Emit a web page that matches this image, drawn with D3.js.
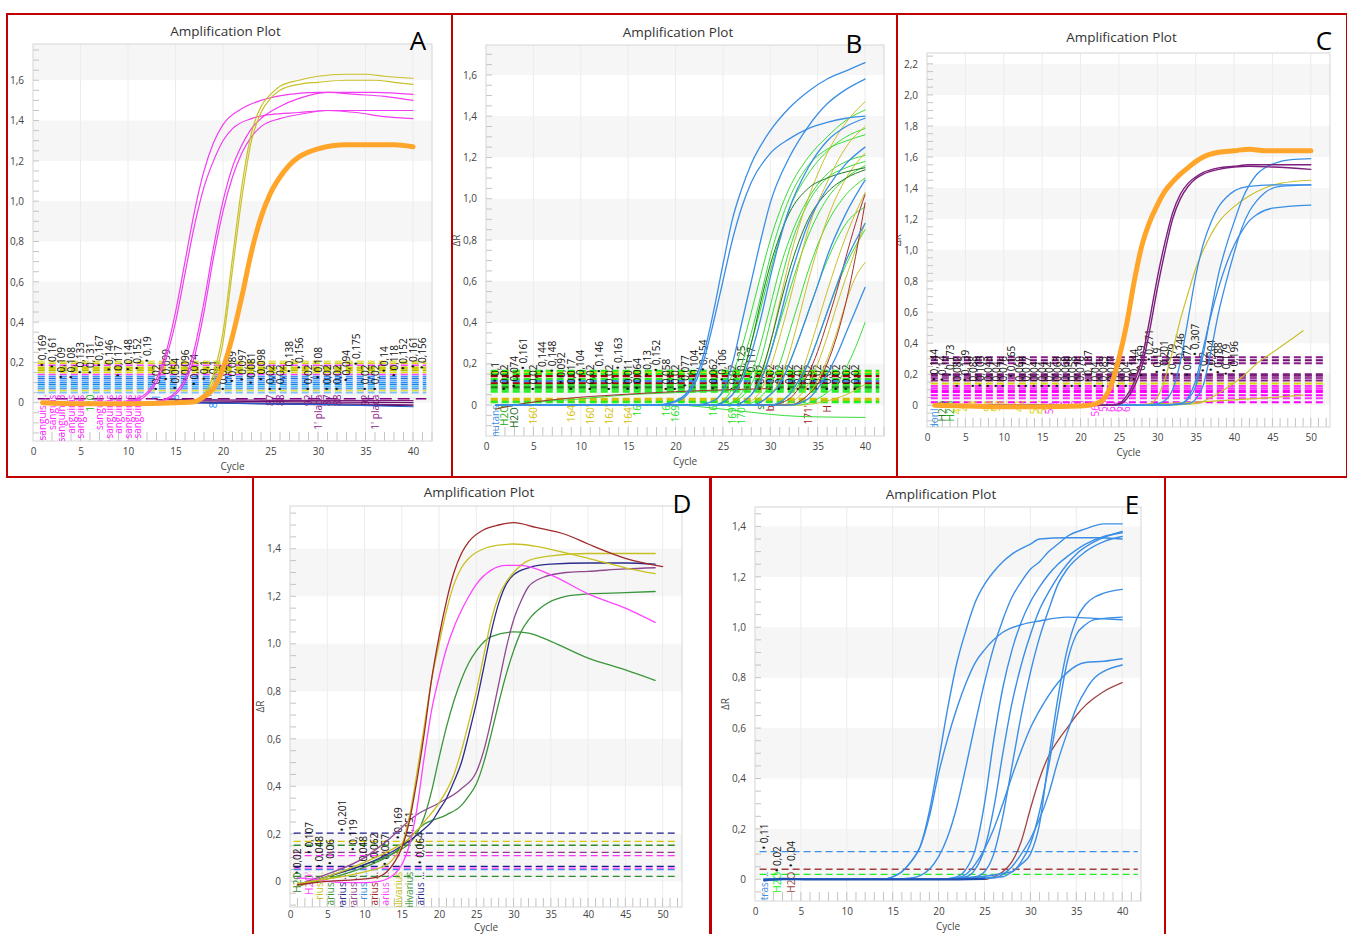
<!DOCTYPE html>
<html>
<head>
<meta charset="utf-8">
<script src="https://cdn.jsdelivr.net/npm/d3@7"></script>
<style>
  body { margin: 0; background: #fff; }
  svg text { font-family: "Open Sans", "Noto Sans", sans-serif; }
</style>
</head>
<body>
<script>
// ---------- panel A (cycle, deltaR) ----------
var aOrange = [[1,0],[5,-0.005],[10,-0.005],[15,0],[17,0.005],[18,0.03],[19,0.07],[20,0.17],[21,0.33],[22,0.53],[23,0.75],[24,0.92],[25,1.04],[26,1.12],[27,1.18],[28,1.22],[30,1.26],[33,1.28],[36,1.28],[38,1.28],[40,1.27]];
var aMag1 = [[1,0],[9,0],[11,0.02],[12,0.05],[13,0.12],[14,0.25],[15,0.45],[16,0.7],[17,0.95],[18,1.15],[19,1.29],[20,1.38],[22,1.46],[24,1.5],[27,1.53],[30,1.54],[33,1.54],[36,1.54],[40,1.53]];
var aMag2 = [[1,0],[9,0],[11,0.01],[12,0.04],[13,0.1],[14,0.22],[15,0.4],[16,0.64],[17,0.88],[18,1.07],[19,1.2],[20,1.3],[21,1.36],[23,1.41],[25,1.43],[28,1.44],[31,1.45],[34,1.44],[37,1.42],[40,1.41]];
var aMag3 = [[1,0],[12,0],[14,0.02],[15,0.05],[16,0.12],[17,0.27],[18,0.5],[19,0.77],[20,1],[21,1.17],[22,1.28],[23,1.36],[24,1.41],[26,1.47],[28,1.51],[31,1.54],[34,1.53],[37,1.52],[40,1.5]];
var aMag4 = [[1,0],[12,0],[14,0.015],[15,0.04],[16,0.1],[17,0.23],[18,0.45],[19,0.72],[20,0.95],[21,1.12],[22,1.24],[23,1.32],[24,1.37],[26,1.41],[28,1.43],[31,1.45],[34,1.45],[37,1.45],[40,1.45]];
var aOl1 = [[1,0],[15,0],[17,0.01],[18,0.04],[19,0.14],[20,0.35],[21,0.72],[22,1.08],[23,1.34],[24,1.47],[25,1.53],[26,1.57],[28,1.6],[30,1.62],[33,1.63],[35,1.63],[37,1.62],[40,1.61]];
var aOl2 = [[1,0],[15,0],[17,0.005],[18,0.03],[19,0.11],[20,0.3],[21,0.66],[22,1.02],[23,1.3],[24,1.44],[25,1.51],[26,1.55],[28,1.58],[30,1.59],[33,1.6],[36,1.6],[38,1.59],[40,1.58]];
var aBase1 = [[13,0.005],[20,0],[30,-0.005],[40,-0.01]];
var aBase2 = [[15,0.01],[25,0.005],[40,0]];
var aBase3 = [[17,0],[30,-0.01],[40,-0.015]];
var aBase4 = [[15,0],[30,-0.008],[40,-0.02]];
var aBase5 = [[13,0.015],[25,0.012],[40,0.01]];
var aThrVals = [0.205,0.196,0.186,0.176,0.168,0.16,0.15,0.14,0.13,0.12,0.11,0.1,0.09,0.08,0.07,0.06,0.05];
var aThrCols = ["#e0e060","#d4d400","#ff40ff","#c8c800","#d0d000","#b8b800","#e0e000","#ff40ff","#3399ff","#1f6fe0","#66aaff","#1e90ff","#2080e0","#40c0ff","#5599ee","#e0e040","#7fbfff"];
var aValLabels = [[1,"0,169"],[2,"0,161"],[3,"0,109"],[4,"0,108"],[5,"0,133"],[6,"0,131"],[7,"0,167"],[8,"0,146"],[9,"0,117"],[10,"0,148"],[11,"0,152"],[12,"0,19"],[13,"0,02"],[14,"0,099"],[15,"0,054"],[16,"0,096"],[17,"0,074"],[18,"0,1"],[19,"0,1"],[20,"0,02"],[21,"0,089"],[22,"0,097"],[23,"0,081"],[24,"0,098"],[25,"0,02"],[26,"0,02"],[27,"0,138"],[28,"0,156"],[29,"0,02"],[30,"0,108"],[31,"0,02"],[32,"0,02"],[33,"0,094"],[34,"0,175"],[35,"0,02"],[36,"0,02"],[37,"0,14"],[38,"0,118"],[39,"0,152"],[40,"0,161"],[41,"0,156"]];
var aSamples = [[1,"sanguis ...","#ff22ff"],[2,"sanguis","#ff22ff"],[3,"sanguini 3","#ff22ff"],[4,"anguinis","#ff22ff"],[5,"sanguinis","#ff22ff"],[6,"120","#22aa22"],[7,"sanguis","#ff22ff"],[8,"sanguinis","#ff22ff"],[9,"anguinis","#ff22ff"],[10,"sanguinis","#ff22ff"],[11,"sanguinis","#ff22ff"],[13,"81","#1e90ff"],[15,"8","#1e90ff"],[19,"81'","#1e90ff"],[25,"87","#8b1a8b"],[26,"88","#8b1a8b"],[29,"92","#8b1a8b"],[30,"1' placa","#8b1a8b"],[31,"87","#8b1a8b"],[32,"88","#8b1a8b"],[35,"92","#8b1a8b"],[36,"1' placa","#8b1a8b"]];

// ---------- panel B ----------
var bB1 = [[1,0],[18,0],[20,0.02],[21,0.05],[22,0.12],[23,0.25],[24,0.45],[25,0.68],[26,0.9],[27,1.05],[28,1.17],[30,1.33],[32,1.44],[34,1.52],[36,1.58],[38,1.62],[40,1.66]];
var bB2 = [[1,0],[18,0],[20,0.015],[21,0.04],[22,0.1],[23,0.22],[24,0.4],[25,0.6],[26,0.8],[27,0.96],[28,1.08],[30,1.22],[32,1.29],[34,1.34],[36,1.37],[38,1.39],[40,1.4]];
var bB3 = [[1,0],[22,0],[24,0.02],[25,0.07],[26,0.2],[27,0.4],[28,0.6],[29,0.8],[30,0.98],[32,1.2],[34,1.35],[36,1.46],[38,1.53],[40,1.58]];
var bB4 = [[1,0],[24,0],[26,0.05],[27,0.12],[28,0.25],[29,0.42],[30,0.62],[31,0.8],[32,0.95],[34,1.15],[36,1.28],[38,1.35],[40,1.39]];
var bB5 = [[1,0],[26,0],[28,0.05],[29,0.12],[30,0.25],[31,0.42],[32,0.6],[33,0.75],[34,0.88],[36,1.05],[38,1.17],[40,1.25]];
var bB6 = [[1,0],[28,0],[30,0.05],[31,0.1],[32,0.2],[33,0.32],[34,0.45],[35,0.58],[36,0.72],[38,0.93],[40,1.09]];
var bB7 = [[1,0],[32,0],[34,0.03],[35,0.08],[36,0.15],[37,0.24],[38,0.35],[39,0.46],[40,0.57]];
var bB8 = [[1,0],[30,0],[32,0.05],[33,0.12],[34,0.2],[35,0.32],[36,0.45],[37,0.58],[38,0.7],[40,0.88]];
var bG1 = [[1,0],[22,0],[24,0.02],[25,0.06],[26,0.15],[27,0.28],[28,0.45],[29,0.63],[30,0.8],[32,1.05],[34,1.2],[36,1.3],[38,1.38],[40,1.43]];
var bG2 = [[1,0],[24,0],[26,0.05],[27,0.14],[28,0.3],[29,0.47],[30,0.65],[32,0.95],[34,1.12],[36,1.23],[38,1.3],[40,1.34]];
var bG3 = [[1,0],[25,0],[27,0.04],[28,0.1],[29,0.22],[30,0.4],[31,0.58],[32,0.75],[34,0.98],[36,1.1],[38,1.15],[40,1.18]];
var bG4 = [[1,0],[26,0],[28,0.05],[29,0.12],[30,0.25],[31,0.4],[32,0.55],[34,0.82],[36,1],[38,1.1],[40,1.16]];
var bG5 = [[1,0],[27,0],[29,0.04],[30,0.1],[31,0.2],[32,0.35],[33,0.5],[34,0.65],[36,0.88],[38,1.02],[40,1.1]];
var bG6 = [[1,0],[28,0],[30,0.05],[31,0.1],[32,0.2],[33,0.32],[34,0.45],[36,0.7],[38,0.88],[40,0.96]];
var bG7 = [[1,0],[30,0],[32,0.05],[33,0.1],[34,0.2],[35,0.32],[36,0.45],[38,0.68],[40,0.85]];
var bG8 = [[1,0],[33,0],[35,0.03],[36,0.06],[37,0.1],[38,0.18],[39,0.28],[40,0.4]];
var bG9 = [[1,0],[10,0],[20,0],[23,-0.01],[25,-0.02],[28,-0.035],[30,-0.045],[33,-0.055],[36,-0.058],[40,-0.06]];
var bG10 = [[1,0],[24,0],[26,0.08],[27,0.2],[28,0.35],[29,0.53],[30,0.72],[32,1],[34,1.16],[36,1.24],[38,1.28],[40,1.31]];
var bG11 = [[1,0],[25,0],[27,0.06],[28,0.15],[29,0.3],[30,0.48],[31,0.66],[32,0.8],[34,1],[36,1.12],[38,1.18],[40,1.21]];
var bG12 = [[1,-0.02],[3,0],[10,0.03],[15,0.05],[20,0.06],[25,0.07],[28,0.075]];
var bO1 = [[1,0],[26,0],[28,0.05],[29,0.14],[30,0.3],[31,0.5],[32,0.7],[33,0.86],[34,1],[36,1.22],[38,1.37],[40,1.47]];
var bO2 = [[1,0],[27,0],[28,0.02],[29,0.07],[30,0.18],[31,0.33],[32,0.5],[33,0.68],[34,0.85],[36,1.08],[38,1.25],[40,1.35]];
var bO3 = [[1,0],[28,0],[30,0.05],[31,0.12],[32,0.25],[33,0.42],[34,0.6],[36,0.9],[38,1.1],[40,1.22]];
var bO4 = [[1,0],[30,0],[32,0.05],[33,0.12],[34,0.25],[35,0.4],[36,0.55],[38,0.82],[40,1.03]];
var bO5 = [[1,0],[32,0],[34,0.05],[35,0.12],[36,0.22],[37,0.35],[38,0.5],[39,0.62],[40,0.69]];
var bO6 = [[1,0],[31,0],[33,0.04],[34,0.1],[35,0.2],[36,0.33],[37,0.48],[38,0.62],[40,0.88]];
var bO7 = [[1,0],[33,0],[36,0.02],[38,0.05],[40,0.1]];
var bD1 = [[1,0],[24,0],[26,0.05],[27,0.14],[28,0.3],[29,0.5],[30,0.68],[31,0.82],[32,0.93],[34,1.05],[36,1.1],[38,1.13],[40,1.15]];
var bD2 = [[1,0],[26,0],[28,0.05],[29,0.15],[30,0.3],[31,0.48],[32,0.65],[34,0.9],[36,1.03],[38,1.1],[40,1.14]];
var bR1 = [[1,0],[30,0],[32,0.03],[33,0.08],[34,0.15],[35,0.26],[36,0.4],[37,0.55],[38,0.72],[39,0.88],[40,1.02]];
var bR2 = [[1,0],[32,0],[34,0.05],[35,0.1],[36,0.2],[37,0.33],[38,0.5],[39,0.72],[40,0.98]];
var bR3 = [[1,-0.02],[3,0],[8,0.03],[14,0.05],[20,0.065],[26,0.075],[30,0.08]];
var bThrVals = [0.165,0.155,0.15,0.14,0.125,0.115,0.105,0.095,0.085,0.075,0.065,0.03,0.02,0.015];
var bThrCols = ["#22ee22","#d4d400","#22ee22","#a00000","#22ee22","#3a8ee6","#a00000","#22ee22","#1e7b1e","#22ee22","#22ee22","#d4c000","#d4c000","#22ee22"];
var bValLabels = [[1,"0,1"],[2,"0,02"],[3,"0,074"],[4,"0,161"],[5,"0,02"],[6,"0,144"],[7,"0,148"],[8,"0,092"],[9,"0,017"],[10,"0,104"],[11,"0,02"],[12,"0,146"],[13,"0,02"],[14,"0,163"],[15,"0,011"],[16,"0,064"],[17,"0,13"],[18,"0,152"],[19,"0,058"],[20,"0,02"],[21,"0,077"],[22,"0,104"],[23,"0,154"],[24,"0,062"],[25,"0,106"],[26,"0,02"],[27,"0,125"],[28,"0,117"],[29,"0,02"],[30,"0,02"],[31,"0,02"],[32,"0,02"],[33,"0,02"],[34,"0,02"],[35,"0,02"],[36,"0,02"],[37,"0,02"],[38,"0,02"],[39,"0,02"]];
var bSamples = [[1,"mutans","#3a8ee6"],[2,"H2O","#22aa22"],[3,"H2O'","#1a6a1a"],[5,"160'","#d4c000"],[9,"164","#d4c000"],[11,"160'","#d4c000"],[13,"162'","#d4c000"],[15,"164'","#d4c000"],[16,"16","#22dd22"],[19,"16","#22dd22"],[20,"169","#22dd22"],[24,"16","#22dd22"],[26,"169'","#22dd22"],[27,"170'","#22dd22"],[29,"s","#1a6a1a"],[30,"b","#a02020"],[34,"171'","#a02020"],[36,"H","#a02020"]];

// ---------- panel C ----------
var cOrange = [[1,0],[5,-0.005],[10,-0.01],[15,-0.01],[20,-0.005],[21,0],[22,0.01],[23,0.04],[24,0.13],[25,0.3],[26,0.52],[27,0.8],[28,1.03],[29,1.18],[30,1.29],[31,1.38],[32,1.44],[33,1.49],[34,1.53],[35,1.57],[36,1.6],[38,1.63],[40,1.64],[42,1.65],[44,1.64],[46,1.64],[50,1.64]];
var cPur1 = [[1,0],[24,0],[25,0.01],[26,0.06],[27,0.15],[28,0.3],[29,0.55],[30,0.82],[31,1.05],[32,1.24],[33,1.36],[34,1.43],[35,1.47],[36,1.5],[38,1.53],[40,1.54],[42,1.55],[45,1.55],[50,1.55]];
var cPur2 = [[1,0],[24,0],[25,0.005],[26,0.04],[27,0.12],[28,0.25],[29,0.48],[30,0.75],[31,0.99],[32,1.2],[33,1.33],[34,1.41],[35,1.46],[36,1.49],[38,1.52],[40,1.535],[42,1.54],[45,1.535],[50,1.52]];
var cBlue1 = [[1,0],[28,0],[30,0.01],[31,0.03],[32,0.1],[33,0.28],[34,0.55],[35,0.83],[36,1.04],[37,1.18],[38,1.28],[39,1.34],[40,1.38],[42,1.41],[45,1.42],[50,1.42]];
var cBlue2 = [[1,0],[30,0],[33,0.01],[34,0.04],[35,0.12],[36,0.33],[37,0.6],[38,0.85],[39,1.03],[40,1.18],[41,1.32],[42,1.42],[43,1.49],[44,1.53],[46,1.57],[48,1.585],[50,1.59]];
var cBlue3 = [[1,0],[30,0],[34,0.01],[35,0.04],[36,0.13],[37,0.35],[38,0.6],[39,0.8],[40,0.98],[41,1.14],[42,1.25],[43,1.32],[44,1.37],[46,1.41],[50,1.42]];
var cBlue4 = [[1,0],[30,0],[33,0.01],[34,0.05],[35,0.16],[36,0.37],[37,0.58],[38,0.76],[39,0.91],[40,1.03],[41,1.12],[42,1.19],[43,1.23],[45,1.27],[50,1.29]];
var cOl1 = [[1,0],[28,0],[29,0.01],[30,0.05],[31,0.17],[32,0.35],[33,0.55],[34,0.72],[35,0.88],[36,1],[37,1.1],[38,1.18],[40,1.28],[42,1.35],[44,1.4],[46,1.43],[50,1.45]];
var cOl2 = [[1,0],[30,0],[35,0.01],[37,0.05],[39,0.11],[41,0.18],[43,0.27],[45,0.34],[47,0.41],[49,0.48]];
var cOl3 = [[1,0],[25,0],[30,0.01],[35,0.02],[40,0.035],[45,0.05],[49,0.065]];
var cThrVals = [0.31,0.29,0.27,0.2,0.19,0.175,0.16,0.14,0.125,0.11,0.095,0.085,0.065,0.045,0.02];
var cThrCols = ["#8b1a8b","#6b0f6b","#8b1a8b","#7b1c7b","#7b1c7b","#a040a0","#8b1a8b","#d4d400","#ff33ff","#ff33ff","#ff00ff","#ff00ff","#ff00ff","#ff33ff","#ff00ff"];
var cValLabels = [[1,"0,144"],[2,"0,14"],[3,"0,173"],[4,"0,082"],[5,"0,139"],[6,"0,088"],[7,"0,103"],[8,"0,043"],[9,"0,04"],[10,"0,076"],[11,"0,165"],[12,"0,069"],[13,"0,077"],[14,"0,04"],[15,"0,04"],[16,"0,04"],[17,"0,063"],[18,"0,068"],[19,"0,058"],[20,"0,076"],[21,"0,137"],[22,"0,04"],[23,"0,083"],[24,"0,077"],[25,"0,04"],[26,"0,04"],[27,"0,144"],[28,"0,169"],[29,"0,271"],[30,"0,19"],[31,"0,201"],[32,"0,179"],[33,"0,246"],[34,"0,172"],[35,"0,307"],[36,"0,2"],[37,"0,204"],[38,"0,188"],[39,"0,179"],[40,"0,196"]];
var cSamples = [[1,"donl...","#3a8ee6"],[2,"H2O","#1e7b1e"],[3,"H2O","#22aa22"],[4,"4...","#d4d400"],[5,"4..","#d4d400"],[6,"4","#d4d400"],[8,"54","#d4d400"],[9,"55","#d4d400"],[10,"2","#d4d400"],[12,"42","#d4d400"],[13,"4'","#d4d400"],[14,"54'","#d4d400"],[15,"55'","#d4d400"],[16,"56'","#ff33ff"],[17,"5","#ff33ff"],[18,"5","#ff33ff"],[19,"6","#ff33ff"],[20,"6","#ff33ff"],[22,"56''","#ff33ff"],[23,"58","#ff33ff"],[24,"60","#ff33ff"],[25,"61","#ff33ff"],[26,"62","#ff33ff"]];

// ---------- panel D ----------
var dBrown = [[1,-0.015],[5,0],[10,0.01],[12,0.02],[13,0.04],[14,0.08],[15,0.14],[16,0.25],[17,0.42],[18,0.62],[19,0.85],[20,1.03],[21,1.18],[22,1.3],[23,1.38],[24,1.43],[26,1.48],[28,1.5],[30,1.51],[33,1.49],[37,1.46],[40,1.42],[45,1.36],[50,1.325]];
var dOl1 = [[1,-0.01],[5,0.01],[10,0.04],[13,0.07],[14,0.1],[15,0.15],[16,0.27],[17,0.45],[18,0.65],[19,0.85],[20,1],[21,1.14],[22,1.25],[23,1.32],[24,1.36],[26,1.4],[28,1.415],[30,1.42],[33,1.41],[36,1.39],[40,1.36],[45,1.32],[49,1.295]];
var dMag = [[1,0.015],[3,0.01],[5,0],[8,-0.005],[10,-0.005],[12,0],[13,0.01],[14,0.03],[15,0.07],[16,0.15],[17,0.3],[18,0.52],[19,0.72],[20,0.86],[21,0.98],[22,1.07],[23,1.14],[24,1.2],[25,1.25],[27,1.31],[29,1.33],[31,1.33],[35,1.29],[40,1.21],[45,1.15],[49,1.09]];
var dOl2 = [[1,-0.02],[5,0.02],[10,0.08],[14,0.14],[16,0.18],[18,0.25],[20,0.33],[22,0.45],[23,0.55],[24,0.67],[25,0.8],[26,0.95],[27,1.1],[28,1.2],[29,1.26],[30,1.3],[32,1.35],[35,1.37],[40,1.38],[45,1.38],[49,1.38]];
var dNavy = [[1,-0.02],[5,0.02],[10,0.07],[14,0.13],[16,0.17],[18,0.22],[19,0.25],[20,0.3],[21,0.35],[22,0.42],[23,0.5],[24,0.62],[25,0.75],[26,0.9],[27,1.05],[28,1.17],[29,1.25],[30,1.29],[32,1.32],[35,1.335],[40,1.34],[45,1.34],[49,1.335]];
var dGreen1 = [[1,-0.02],[5,0.02],[10,0.07],[14,0.12],[16,0.16],[17,0.2],[18,0.27],[19,0.38],[20,0.52],[21,0.65],[22,0.76],[23,0.85],[24,0.92],[25,0.97],[27,1.03],[30,1.05],[32,1.045],[35,1.01],[40,0.94],[45,0.89],[49,0.846]];
var dPurple = [[1,-0.015],[5,0.03],[10,0.1],[13,0.17],[17,0.28],[20,0.33],[23,0.39],[25,0.46],[26,0.55],[27,0.68],[28,0.83],[29,0.98],[30,1.1],[31,1.18],[32,1.24],[34,1.28],[37,1.3],[40,1.305],[45,1.315],[49,1.32]];
var dGreen2 = [[1,-0.02],[5,0.01],[10,0.06],[14,0.12],[18,0.24],[21,0.28],[23,0.32],[24,0.36],[25,0.41],[26,0.5],[27,0.62],[28,0.75],[29,0.87],[30,0.97],[31,1.05],[32,1.1],[34,1.16],[37,1.2],[40,1.21],[45,1.215],[49,1.22]];
var dThrVals = [0.203,0.168,0.152,0.122,0.108,0.063,0.056,0.049,0.021];
var dThrCols = ["#1a1a8a","#d4c800","#2e8b2e","#8b3a8b","#ff33ff","#1a1a8a","#ff33ff","#3a8ee6","#2e8b2e"];
var dValLabels = [[1,"0,02"],[2.6,"0,107"],[4,"0,048"],[5.4,"0,06"],[7,"0,201"],[8.5,"0,119"],[9.9,"0,048"],[11.4,"0,062"],[12.8,"0,057"],[14.5,"0,169"],[16,"0,151"],[17.5,"0,064"]];
var dSamples = [[1,"H2O","#2e8b2e"],[2.6,"H2O'","#ff44ff"],[4,"rius ...","#c8c020"],[5.4,"arius ...","#3a963a"],[7,"salivarius ...","#2b2b8c"],[8.5,"alivarius ...","#8e4a8e"],[9.9,"rius ...","#3a8ee6"],[11.4,"arius ...","#a0292a"],[12.8,"arius ...","#ff44ff"],[14.5,"salivarius","#c8c020"],[16,"salivarius","#3a963a"],[17.5,"arius ...","#2b2b8c"]];

// ---------- panel E ----------
var eA = [[1,-0.005],[5,0],[10,0],[14,0],[15,0.01],[16,0.03],[17,0.07],[18,0.13],[19,0.27],[20,0.47],[21,0.68],[22,0.86],[23,0.99],[24,1.1],[25,1.17],[26,1.22],[27,1.26],[28,1.29],[30,1.33],[31,1.35],[34,1.355],[37,1.355],[40,1.35]];
var eB = [[1,0],[14,0],[15,0.01],[16,0.03],[17,0.07],[18,0.13],[19,0.25],[20,0.42],[21,0.56],[22,0.68],[23,0.78],[24,0.86],[25,0.91],[26,0.95],[27,0.98],[29,1.01],[31,1.025],[34,1.04],[37,1.035],[40,1.03]];
var eC = [[1,0],[15,0],[17,0.005],[18,0.015],[19,0.04],[20,0.09],[21,0.17],[22,0.29],[23,0.45],[24,0.62],[25,0.78],[26,0.92],[27,1.03],[28,1.12],[29,1.18],[30,1.23],[31,1.26],[32,1.3],[33,1.33],[34,1.36],[36,1.39],[38,1.41],[40,1.41]];
var eD = [[1,0],[20,0],[22,0.01],[23,0.04],[24,0.12],[25,0.3],[26,0.55],[27,0.76],[28,0.91],[29,1.02],[30,1.1],[31,1.16],[32,1.21],[33,1.25],[34,1.28],[36,1.33],[38,1.36],[40,1.375]];
var eE = [[1,0],[20,0],[23,0.01],[24,0.04],[25,0.12],[26,0.28],[27,0.5],[28,0.7],[29,0.85],[30,0.97],[31,1.07],[32,1.14],[33,1.2],[34,1.25],[35,1.29],[37,1.34],[40,1.38]];
var eF = [[1,0],[20,0],[24,0.01],[25,0.03],[26,0.1],[27,0.25],[28,0.45],[29,0.65],[30,0.82],[31,0.96],[32,1.07],[33,1.17],[34,1.23],[36,1.3],[38,1.34],[40,1.36]];
var eG = [[1,0],[20,0],[27,0.01],[28,0.03],[29,0.06],[30,0.1],[31,0.22],[32,0.48],[33,0.72],[34,0.91],[35,1.03],[36,1.09],[37,1.12],[38,1.135],[40,1.15]];
var eH = [[1,0],[20,0],[28,0.03],[29,0.07],[30,0.14],[31,0.27],[32,0.45],[33,0.66],[34,0.86],[35,0.97],[36,1.01],[37,1.03],[40,1.04]];
var eI = [[1,0],[20,0],[22,0.005],[23,0.02],[24,0.06],[25,0.12],[26,0.2],[27,0.3],[28,0.41],[29,0.51],[30,0.6],[31,0.67],[32,0.73],[33,0.78],[34,0.82],[36,0.86],[38,0.865],[40,0.875]];
var eJ = [[1,0],[20,0],[26,0.005],[27,0.02],[28,0.05],[29,0.1],[30,0.16],[31,0.24],[32,0.34],[33,0.47],[34,0.58],[35,0.68],[36,0.75],[37,0.8],[38,0.825],[40,0.85]];
var eBrown = [[1,0],[20,0],[25,0],[26,0.01],[27,0.03],[28,0.07],[29,0.15],[30,0.28],[31,0.4],[32,0.49],[33,0.55],[34,0.6],[35,0.65],[36,0.69],[37,0.72],[38,0.745],[40,0.78]];
var eBase = [[1,-0.004],[3,0.002],[6,0],[10,0],[15,0],[20,0],[25,0.002]];
var eThrVals = [0.11,0.04,0.02];
var eThrCols = ["#3d8fe8","#a0403f","#22ee22"];
var eValLabels = [[1,"0,11"],[2.5,"0,02"],[4,"0,04"]];
var eSamples = [[1,"muestras ...","#3a8ee6"],[2.5,"H2O","#22ee22"],[4,"H2O","#a04545"]];

// colours
var ORANGE = "#ffa52a", MAG = "#f23cf2", OLIVE = "#c9c02a", BLUE = "#3a8ee6", LIME = "#38dd38",
    DKGREEN = "#1f7a1f", BROWN = "#a3302f", PURPLE = "#7d1f7d";

// layout of the five panels
var panels = [
  { frame:[7,14,452,477], left:33, right:432, top:44, bottom:441, xDomain:[0,42], yDomain:[-0.19,1.78],
    xTicks:d3.range(0,41,5), yTicks:d3.range(0,1.61,0.2), letter:"A", letterPos:[418,50], titleY:31, yLabel:false, xPad:7,
    thrVals:aThrVals, thrCols:aThrCols, thrEnd:41.4, thrW:1.6,
    extraThr:[[0.02,"#800080","12,6"]],
    series:[[aBase1,PURPLE,1.2],[aBase2,"#6b0f6b",1.2],[aBase3,"#5a0a5a",1.2],[aBase4,"#1f5fd0",1.2],[aBase5,PURPLE,1.2],
            [aMag1,MAG,1.2],[aMag2,MAG,1.2],[aMag3,MAG,1.2],[aMag4,MAG,1.2],[aOl1,OLIVE,1.2],[aOl2,OLIVE,1.2],[aOrange,ORANGE,5]],
    vals:aValLabels, valMin:0.05, samples:aSamples, sampleTop:0.04 },
  { frame:[452,14,897,477], left:486, right:884, top:45, bottom:436, xDomain:[0,42], yDomain:[-0.15,1.745],
    xTicks:d3.range(0,41,5), yTicks:d3.range(0,1.61,0.2), letter:"B", letterPos:[854,53], titleY:32, yLabel:true, xPad:7,
    thrVals:bThrVals, thrCols:bThrCols, thrEnd:41.5, thrW:2.4, extraThr:[],
    series:[[bG12,LIME,1],[bR3,BROWN,1],[bG9,LIME,1],
            [bG1,LIME,1],[bG2,LIME,1],[bG3,LIME,1],[bG4,LIME,1],[bG5,LIME,1],[bG6,LIME,1],[bG7,LIME,1],[bG8,LIME,1],[bG10,LIME,1],[bG11,LIME,1],
            [bO1,OLIVE,1],[bO2,OLIVE,1],[bO3,OLIVE,1],[bO4,OLIVE,1],[bO5,OLIVE,1],[bO6,OLIVE,1],[bO7,OLIVE,1],
            [bD1,DKGREEN,1],[bD2,DKGREEN,1],[bR1,BROWN,1],[bR2,BROWN,1],
            [bB1,BLUE,1.3],[bB2,BLUE,1.3],[bB3,BLUE,1.3],[bB4,BLUE,1.3],[bB5,BLUE,1.3],[bB6,BLUE,1.3],[bB7,BLUE,1.3],[bB8,BLUE,1.3]],
    vals:bValLabels, valMin:0.06, samples:bSamples, sampleTop:0.0 },
  { frame:[897,14,1347,477], left:927, right:1330, top:53, bottom:427, xDomain:[0,52.5], yDomain:[-0.14,2.27],
    xTicks:d3.range(0,51,5), yTicks:d3.range(0,2.21,0.2), letter:"C", letterPos:[1324,50], titleY:37, yLabel:true, xPad:7,
    thrVals:cThrVals, thrCols:cThrCols, thrEnd:52, thrW:2, extraThr:[],
    series:[[cOl3,OLIVE,1.2],[cOl2,OLIVE,1.2],[cOl1,OLIVE,1.2],[cBlue1,BLUE,1.3],[cBlue2,BLUE,1.3],[cBlue3,BLUE,1.3],[cBlue4,BLUE,1.3],
            [cPur1,PURPLE,1.4],[cPur2,PURPLE,1.4],[cOrange,ORANGE,5]],
    vals:cValLabels, valMin:0.1, samples:cSamples, sampleTop:0.03 },
  { frame:[253,477,710,940], left:290, right:682, top:506, bottom:907, xDomain:[0,52.6], yDomain:[-0.108,1.58],
    xTicks:d3.range(0,51,5), yTicks:d3.range(0,1.41,0.2), letter:"D", letterPos:[682,513], titleY:492, yLabel:true, xPad:4,
    thrVals:dThrVals, thrCols:dThrCols, thrEnd:52, thrW:1.3, extraThr:[],
    series:[[dGreen2,"#3a963a",1.3],[dGreen1,"#3a963a",1.3],[dPurple,"#8e4a8e",1.3],[dNavy,"#2b2b8c",1.3],[dOl2,"#c8c020",1.3],
            [dMag,"#ff44ff",1.3],[dOl1,"#c8c020",1.3],[dBrown,"#a0292a",1.3]],
    vals:dValLabels, valMin:0.0, samples:dSamples, sampleTop:0.04 },
  { frame:[711,477,1165,940], left:755, right:1141, top:507, bottom:901, xDomain:[0,42.05], yDomain:[-0.086,1.477],
    xTicks:d3.range(0,41,5), yTicks:d3.range(0,1.41,0.2), letter:"E", letterPos:[1132,514], titleY:494, yLabel:true, xPad:7,
    thrVals:eThrVals, thrCols:eThrCols, thrEnd:41.7, thrW:1.3, extraThr:[],
    series:[[eBrown,"#a04545",1.3],[eA,BLUE,1.4],[eB,BLUE,1.4],[eC,BLUE,1.4],[eD,BLUE,1.4],[eE,BLUE,1.4],[eF,BLUE,1.4],
            [eG,BLUE,1.4],[eH,BLUE,1.4],[eI,BLUE,1.4],[eJ,BLUE,1.4],[eBase,"#1f4fb0",2.2]],
    vals:eValLabels, valMin:0.0, samples:eSamples, sampleTop:0.03 }
];

var svg = d3.select("body").append("svg").attr("width", 1347).attr("height", 934);
var defs = svg.append("defs");

function tickFmt(v){ return Math.abs(v) < 1e-9 ? "0" : d3.format(".1f")(v).replace(".", ","); }
function labelValue(t){ return +t.replace(",", "."); }

panels.forEach(function(p, i){
  var x = d3.scaleLinear().domain(p.xDomain).range([p.left, p.right]);
  var y = d3.scaleLinear().domain(p.yDomain).range([p.bottom, p.top]);

  defs.append("clipPath").attr("id", "frame" + i).append("rect")
      .attr("x", p.frame[0]).attr("y", p.frame[1])
      .attr("width", p.frame[2] - p.frame[0]).attr("height", p.frame[3] - p.frame[1]);
  defs.append("clipPath").attr("id", "plot" + i).append("rect")
      .attr("x", p.left).attr("y", p.top).attr("width", p.right - p.left).attr("height", p.bottom - p.top);

  var g = svg.append("g").attr("clip-path", "url(#frame" + i + ")");

  // stripes every other 0.2 band
  var yMax = p.yDomain[1];
  g.selectAll(".band").data(d3.range(0, yMax, 0.4)).enter().append("rect")
      .attr("x", p.left).attr("width", p.right - p.left)
      .attr("y", function(d){ return y(Math.min(d + 0.2, yMax)); })
      .attr("height", function(d){ return y(d) - y(Math.min(d + 0.2, yMax)); })
      .attr("fill", "#f6f6f6");

  // vertical grid
  g.selectAll(".vg").data(p.xTicks.filter(function(d){ return d > 0; })).enter().append("line")
      .attr("x1", function(d){ return x(d); }).attr("x2", function(d){ return x(d); })
      .attr("y1", p.top).attr("y2", p.bottom).attr("stroke", "#ececec");

  // minor ticks
  var yMinor = d3.range(Math.ceil(p.yDomain[0] / 0.05) * 0.05, yMax, 0.05);
  g.selectAll(".ym").data(yMinor).enter().append("line")
      .attr("x1", p.left).attr("x2", p.left + 6)
      .attr("y1", function(d){ return y(d); }).attr("y2", function(d){ return y(d); })
      .attr("stroke", "#c4c4c4");
  g.selectAll(".xm").data(d3.range(1, Math.floor(p.xDomain[1]) + 1)).enter().append("line")
      .attr("x1", function(d){ return x(d); }).attr("x2", function(d){ return x(d); })
      .attr("y1", p.bottom).attr("y2", p.bottom - 9)
      .attr("stroke", "#c4c4c4");

  // plot frame
  g.append("rect").attr("x", p.left).attr("y", p.top)
      .attr("width", p.right - p.left).attr("height", p.bottom - p.top)
      .attr("fill", "none").attr("stroke", "#d6d6d6");

  // axes
  var ya = g.append("g").attr("transform", "translate(" + p.left + ",0)")
      .call(d3.axisLeft(y).tickValues(p.yTicks).tickFormat(tickFmt).tickSize(0).tickPadding(9));
  var xa = g.append("g").attr("transform", "translate(0," + p.bottom + ")")
      .call(d3.axisBottom(x).tickValues(p.xTicks).tickFormat(d3.format("d")).tickSize(0).tickPadding(p.xPad));
  [ya, xa].forEach(function(a){
    a.select(".domain").remove();
    a.selectAll("text").attr("font-size", 10).attr("fill", "#444");
  });

  var mid = (p.left + p.right) / 2;
  g.append("text").attr("x", mid).attr("y", Math.min(p.bottom + 29, 931)).attr("text-anchor", "middle")
      .attr("font-size", 10).attr("fill", "#444").text("Cycle");
  if (p.yLabel) {
    g.append("text").attr("transform", "translate(" + (p.left - 26) + "," + ((p.top + p.bottom) / 2) + ") rotate(-90)")
        .attr("text-anchor", "middle").attr("font-size", 10).attr("fill", "#444").text("ΔR");
  }
  g.append("text").attr("x", mid - 7).attr("y", p.titleY + 5).attr("text-anchor", "middle")
      .attr("font-size", 13.5).attr("fill", "#333").text("Amplification Plot");
  g.append("text").attr("x", p.letterPos[0]).attr("y", p.letterPos[1]).attr("text-anchor", "middle")
      .attr("font-size", 26).attr("fill", "#000").text(p.letter);

  // everything inside the plot area
  var pg = g.append("g").attr("clip-path", "url(#plot" + i + ")");

  // thresholds
  var thr = p.thrVals.map(function(v, k){ return [v, p.thrCols[k], "7,4"]; }).concat(p.extraThr);
  pg.selectAll(".thr").data(thr).enter().append("line")
      .attr("x1", x(0.5)).attr("x2", x(p.thrEnd))
      .attr("y1", function(d){ return y(d[0]); }).attr("y2", function(d){ return y(d[0]); })
      .attr("stroke", function(d){ return d[1]; })
      .attr("stroke-width", p.thrW).attr("stroke-dasharray", function(d){ return d[2]; });

  // threshold value labels
  pg.selectAll(".vl").data(p.vals).enter().append("text")
      .attr("transform", function(d){
        var v = Math.max(labelValue(d[1]), p.valMin);
        return "translate(" + (x(d[0]) + 3.5) + "," + (y(v) - 2) + ") rotate(-90)";
      })
      .attr("font-size", 10).attr("fill", "#111").text(function(d){ return "• " + d[1]; });

  // sample name labels hanging below the baseline
  pg.selectAll(".sl").data(p.samples).enter().append("text")
      .attr("transform", function(d){ return "translate(" + (x(d[0]) + 3.5) + "," + y(p.sampleTop) + ") rotate(-90)"; })
      .attr("text-anchor", "end").attr("font-size", 10)
      .attr("fill", function(d){ return d[2]; }).text(function(d){ return d[1]; });

  // amplification curves
  var line = d3.line().x(function(d){ return x(d[0]); }).y(function(d){ return y(d[1]); })
      .curve(d3.curveMonotoneX);
  pg.selectAll(".curve").data(p.series).enter().append("path")
      .attr("d", function(d){ return line(d[0]); })
      .attr("fill", "none").attr("stroke", function(d){ return d[1]; })
      .attr("stroke-width", function(d){ return d[2]; })
      .attr("stroke-linejoin", "round").attr("stroke-linecap", "round");

  // red panel frame
  svg.append("rect").attr("x", p.frame[0]).attr("y", p.frame[1])
      .attr("width", p.frame[2] - p.frame[0]).attr("height", p.frame[3] - p.frame[1])
      .attr("fill", "none").attr("stroke", "#c00000").attr("stroke-width", 2);
});
</script>
</body>
</html>
